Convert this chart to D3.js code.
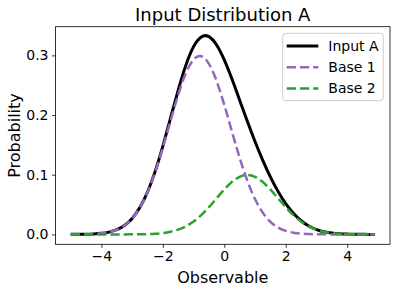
<!DOCTYPE html>
<html>
<head>
<meta charset="utf-8">
<script src="https://cdn.jsdelivr.net/npm/d3@7"></script>
<style>
  html, body { margin: 0; padding: 0; background: #fff; }
  svg { display: block; font-family: "DejaVu Sans", sans-serif; }
</style>
</head>
<body>
<svg id="chart" width="397" height="291"></svg>
<script>
// Observable grid
const xValues = [-5, -4.75, -4.5, -4.25, -4, -3.75, -3.5, -3.25, -3, -2.75, -2.5, -2.25, -2, -1.75, -1.5, -1.25, -1, -0.75, -0.5, -0.25,
  0, 0.25, 0.5, 0.75, 1, 1.25, 1.5, 1.75, 2, 2.25, 2.5, 2.75, 3, 3.25, 3.5, 3.75, 4, 4.25, 4.5, 4.75, 4.9];

// Series values
const inputA = [0.00004, 0.00012, 0.00032, 0.00078, 0.00179, 0.00385, 0.00781, 0.0149, 0.0267, 0.0449, 0.0710, 0.1056, 0.1479, 0.1948,
  0.2419, 0.2837, 0.3147, 0.3310, 0.3314, 0.3175, 0.2924, 0.2603, 0.2250, 0.1896, 0.1558, 0.1246, 0.0965, 0.0721, 0.0515, 0.0353,
  0.0229, 0.0141, 0.0081, 0.0045, 0.0023, 0.0011, 0.0005, 0.0002, 0.0001, 0.00003, 0];
const base1 = [0.00004, 0.00012, 0.00032, 0.00078, 0.00179, 0.00385, 0.00781, 0.01487, 0.02659, 0.04467, 0.07048, 0.1045, 0.1456, 0.1904,
  0.2340, 0.2702, 0.2931, 0.2986, 0.2858, 0.2570, 0.2171, 0.1723, 0.1284, 0.0899, 0.0592, 0.0366, 0.0212, 0.0116, 0.0059, 0.0029,
  0.0013, 0.00055, 0.00022, 0.00008, 0.00003, 0.00001, 0, 0, 0, 0, 0];
const base2 = [0, 0, 0, 0, 0, 0, 0, 0.00003, 0.0001, 0.0002, 0.0005, 0.0011, 0.0023, 0.0044, 0.0079, 0.0135, 0.0216, 0.0324, 0.0456, 0.0605,
  0.0753, 0.0880, 0.0966, 0.0997, 0.0966, 0.0880, 0.0753, 0.0605, 0.0456, 0.0324, 0.0216, 0.0135, 0.0079, 0.0044, 0.0023, 0.0011,
  0.0005, 0.0002, 0.0001, 0.00003, 0];

const seriesNames = ['Input A', 'Base 1', 'Base 2'];
const xTicks = [-4, -2, 0, 2, 4];
const yTicks = [0, 0.1, 0.2, 0.3];

// Layout
const layout = { left: 55.5, right: 390, top: 26.7, bottom: 244.3 };

const svg = d3.select('#chart');

const x = d3.scaleLinear().domain([-5.495, 5.395]).range([layout.left, layout.right]);
const y = d3.scaleLinear().domain([-0.0166, 0.3481]).range([layout.bottom, layout.top]);

const series = [
  { name: seriesNames[0], values: inputA, color: '#000000', width: 3, dash: null },
  { name: seriesNames[1], values: base1, color: '#9467bd', width: 2.5, dash: '9.25,4' },
  { name: seriesNames[2], values: base2, color: '#2ca02c', width: 2.5, dash: '9.25,4' },
];

const minus = (s) => s.replace('-', '\u2212');

// Axes
const xAxis = svg.append('g')
  .attr('transform', `translate(0,${layout.bottom})`)
  .call(d3.axisBottom(x).tickValues(xTicks).tickSize(3.5).tickPadding(3.5)
    .tickFormat((d) => minus(d3.format('d')(d))));
const yAxis = svg.append('g')
  .attr('transform', `translate(${layout.left},0)`)
  .call(d3.axisLeft(y).tickValues(yTicks).tickSize(3.5).tickPadding(3.5)
    .tickFormat(d3.format('.1f')));

[xAxis, yAxis].forEach(function(a) {
  a.select('.domain').remove();
  a.selectAll('.tick line').attr('stroke', '#000').attr('stroke-width', 0.8);
  a.selectAll('.tick text').attr('fill', '#000').style('font-size', '14px').style('font-family', '"DejaVu Sans", sans-serif');
});

// Lines
const line = d3.line()
  .x((d, i) => x(xValues[i]))
  .y((d) => y(d))
  .curve(d3.curveNatural);

series.forEach(function(s) {
  svg.append('path')
    .datum(s.values)
    .attr('d', line)
    .attr('fill', 'none')
    .attr('stroke', s.color)
    .attr('stroke-width', s.width)
    .attr('stroke-dasharray', s.dash);
});

// Frame
svg.append('rect')
  .attr('x', layout.left)
  .attr('y', layout.top)
  .attr('width', layout.right - layout.left)
  .attr('height', layout.bottom - layout.top)
  .attr('fill', 'none')
  .attr('stroke', '#000')
  .attr('stroke-width', 0.8);

// Title and labels
svg.append('text')
  .attr('x', (layout.left + layout.right) / 2)
  .attr('y', 21)
  .attr('text-anchor', 'middle')
  .style('font-size', '18px')
  .text('Input Distribution A');

svg.append('text')
  .attr('x', (layout.left + layout.right) / 2)
  .attr('y', 283)
  .attr('text-anchor', 'middle')
  .style('font-size', '16px')
  .text('Observable');

svg.append('text')
  .attr('transform', `translate(20,${(layout.top + layout.bottom) / 2}) rotate(-90)`)
  .attr('text-anchor', 'middle')
  .style('font-size', '16px')
  .text('Probability');

// Legend
const legend = svg.append('g').attr('transform', 'translate(282.7,33.3)');
legend.append('rect')
  .attr('width', 100.6)
  .attr('height', 67.4)
  .attr('rx', 3)
  .attr('fill', '#fff')
  .attr('fill-opacity', 0.8)
  .attr('stroke', '#cccccc')
  .attr('stroke-width', 1);

series.forEach(function(s, i) {
  const rowY = 12.7 + i * 21.2;
  legend.append('line')
    .attr('x1', 4).attr('x2', 35.6)
    .attr('y1', rowY).attr('y2', rowY)
    .attr('stroke', s.color)
    .attr('stroke-width', s.width)
    .attr('stroke-dasharray', s.dash);
  legend.append('text')
    .attr('x', 45.6)
    .attr('y', rowY + 5)
    .style('font-size', '14px')
    .text(s.name);
});
</script>
</body>
</html>
